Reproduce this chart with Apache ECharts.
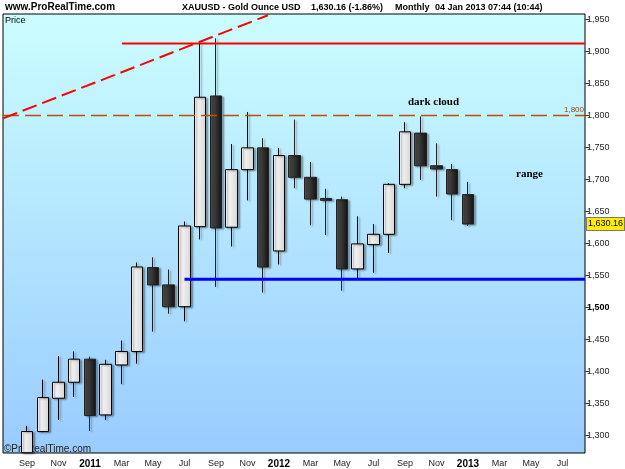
<!DOCTYPE html>
<html>
<head>
<meta charset="utf-8">
<script src="https://cdn.jsdelivr.net/npm/echarts@6/dist/echarts.min.js"></script>
<style>
html,body{margin:0;padding:0;background:#fff;}
#main{width:625px;height:469px;}
</style>
</head>
<body>
<div id="main"></div>
<script>
// monthly candles, index 0 = Sep 2010 (its open sits below the visible range)
var months = ['2010-09','2010-10','2010-11','2010-12','2011-01','2011-02','2011-03','2011-04','2011-05','2011-06',
              '2011-07','2011-08','2011-09','2011-10','2011-11','2011-12','2012-01','2012-02','2012-03','2012-04',
              '2012-05','2012-06','2012-07','2012-08','2012-09','2012-10','2012-11','2012-12','2013-01'];
var opens  = [1273,1306,1358,1383,1419,1332,1410,1431,1562,1535,1501,1626,1830,1625,1715,1749,1588,1737,1703,1670,1668,1560,1598,1614,1692,1772,1721,1715,1676];
var closes = [1306,1359,1383,1419,1331,1411,1431,1563,1535,1501,1627,1828,1624,1715,1749,1563,1737,1703,1669,1667,1560,1599,1614,1692,1774,1721,1716,1677,1630.16];
var lows   = [1273,1305,1324,1360,1307,1324,1380,1412,1462,1490,1478,1606,1532,1595,1667,1523,1567,1686,1628,1613,1526,1544,1554,1585,1686,1699,1673,1636,1627];
var highs  = [1315,1387,1424,1431,1423,1418,1448,1570,1578,1559,1634,1914,1920,1755,1805,1764,1749,1793,1727,1685,1673,1642,1630,1694,1789,1798,1756,1724,1696];

var tickIdx   = [0,2,4,6,8,10,12,14,16,18,20,22,24,26,28,30,32,34];
var tickNames = ['Sep','Nov','2011','Mar','May','Jul','Sep','Nov','2012','Mar','May','Jul','Sep','Nov','2013','Mar','May','Jul'];
var priceTicks = [1300,1350,1400,1450,1500,1550,1600,1650,1700,1750,1800,1850,1900,1950];

// drawn lines (month index, price)
var trendLine  = [[-1.524,1795],[15.3,1956]];
var resistance = [[6.03,1912],[35.43,1912]];
var support    = [[10,1544],[35.43,1544]];
var level1800  = 1800;
var lastClose  = 1630.16;

var candles = [];
for (var i = 0; i < months.length; i++) {
    candles.push([i, opens[i], closes[i], lows[i], highs[i]]);
}

var myChart = echarts.init(document.getElementById('main'));
var font = "'Liberation Sans', Arial, sans-serif";

option = {
    animation: false,
    backgroundColor: '#ffffff',
    grid: {
        left: 3, right: 40, top: 14, bottom: 15,
        show: true,
        borderColor: '#000',
        borderWidth: 1,
        backgroundColor: new echarts.graphic.LinearGradient(0, 0, 0, 1, [
            {offset: 0, color: '#ccfdff'},
            {offset: 1, color: '#99ccff'}
        ])
    },
    xAxis: {
        type: 'value',
        min: -1.524,
        max: 35.43,
        splitLine: {show: false},
        axisLine: {show: false, onZero: false},
        axisTick: {show: false},
        axisLabel: {
            customValues: tickIdx,
            margin: 6,
            fontFamily: font,
            fontSize: 9,
            color: '#222',
            formatter: function (v) {
                var n = tickNames[tickIdx.indexOf(Math.round(v))] || '';
                return /^\d+$/.test(n) ? '{b|' + n + '}' : n;
            },
            rich: {b: {fontWeight: 'bold', fontSize: 10, fontFamily: font, color: '#000'}}
        }
    },
    yAxis: {
        type: 'value',
        position: 'right',
        min: 1272.5,
        max: 1958,
        splitLine: {show: false},
        axisLine: {show: false, onZero: false},
        axisTick: {show: true, customValues: priceTicks, length: 4, lineStyle: {color: '#333'}},
        axisLabel: {
            customValues: priceTicks,
            margin: 2,
            fontFamily: font,
            fontSize: 9,
            color: '#222',
            formatter: function (v) {
                var s = v.toLocaleString('en-US');
                return v === 1500 ? '{b|' + s + '}' : s;
            },
            rich: {b: {fontWeight: 'bold', fontSize: 9, fontFamily: font, color: '#000'}}
        }
    },
    series: [
        {
            type: 'candlestick',
            data: candles,
            barWidth: 12,
            itemStyle: {
                color: new echarts.graphic.LinearGradient(0, 0, 1, 0, [
                    {offset: 0, color: '#ffffff'},
                    {offset: 1, color: '#d6d6d6'}
                ]),
                color0: new echarts.graphic.LinearGradient(0, 0, 1, 0, [
                    {offset: 0, color: '#555555'},
                    {offset: 1, color: '#111111'}
                ]),
                borderColor: '#000',
                borderColor0: '#222',
                borderWidth: 1,
                shadowColor: 'rgba(0,0,0,0.35)',
                shadowBlur: 2,
                shadowOffsetX: 2,
                shadowOffsetY: 1
            }
        },
        {
            type: 'line', data: trendLine, showSymbol: false, silent: true, z: 5,
            lineStyle: {color: '#ff0000', width: 2, type: [15, 6]},
            markLine: {
                silent: true,
                symbol: 'none',
                lineStyle: {color: '#b4520e', width: 1.3, type: [16, 6]},
                label: {
                    position: 'insideEndTop', formatter: '1,800', distance: 1,
                    fontFamily: font, fontSize: 8, color: '#8b4513'
                },
                data: [{yAxis: level1800}]
            }
        },
        {
            type: 'line', data: resistance, showSymbol: false, silent: true, z: 5,
            lineStyle: {color: '#ff0000', width: 2},
            markLine: {
                silent: true,
                symbol: 'none',
                lineStyle: {color: 'rgba(0,0,0,0)', width: 0},
                label: {
                    show: true,
                    position: 'end', formatter: '1,630.16', distance: 2,
                    fontFamily: font, fontSize: 9, color: '#000',
                    backgroundColor: '#ffee00', borderColor: '#777', borderWidth: 1,
                    padding: [2, 1, 1, 1]
                },
                data: [{yAxis: lastClose}]
            }
        },
        {
            type: 'line', data: support, showSymbol: false, silent: true, z: 5,
            lineStyle: {color: '#0000ff', width: 3}
        }
    ],
    graphic: [
        {type: 'text', left: 5, top: 2, style: {text: 'www.ProRealTime.com', font: 'bold 10px ' + font, fill: '#000'}},
        {type: 'text', left: 182, top: 3, style: {text: 'XAUUSD - Gold Ounce USD', font: 'bold 9px ' + font, fill: '#000'}},
        {type: 'text', left: 311, top: 3, style: {text: '1,630.16 (-1.86%)', font: 'bold 9px ' + font, fill: '#000'}},
        {type: 'text', left: 395, top: 3, style: {text: 'Monthly', font: 'bold 9px ' + font, fill: '#000'}},
        {type: 'text', left: 435, top: 3, style: {text: '04 Jan 2013 07:44 (10:44)', font: 'bold 9px ' + font, fill: '#000'}},
        {type: 'text', left: 5, top: 16, style: {text: 'Price', font: '9px ' + font, fill: '#000'}},
        {type: 'text', left: 4, top: 444, style: {text: '\u00a9ProRealTime.com', font: '10px ' + font, fill: '#222'}},
        {type: 'text', left: 408, top: 97, style: {text: 'dark cloud', font: 'bold 11px "Liberation Serif", serif', fill: '#000'}},
        {type: 'text', left: 516, top: 169, style: {text: 'range', font: 'bold 11px "Liberation Serif", serif', fill: '#000'}}
    ]
};

myChart.setOption(option);
</script>
</body>
</html>
